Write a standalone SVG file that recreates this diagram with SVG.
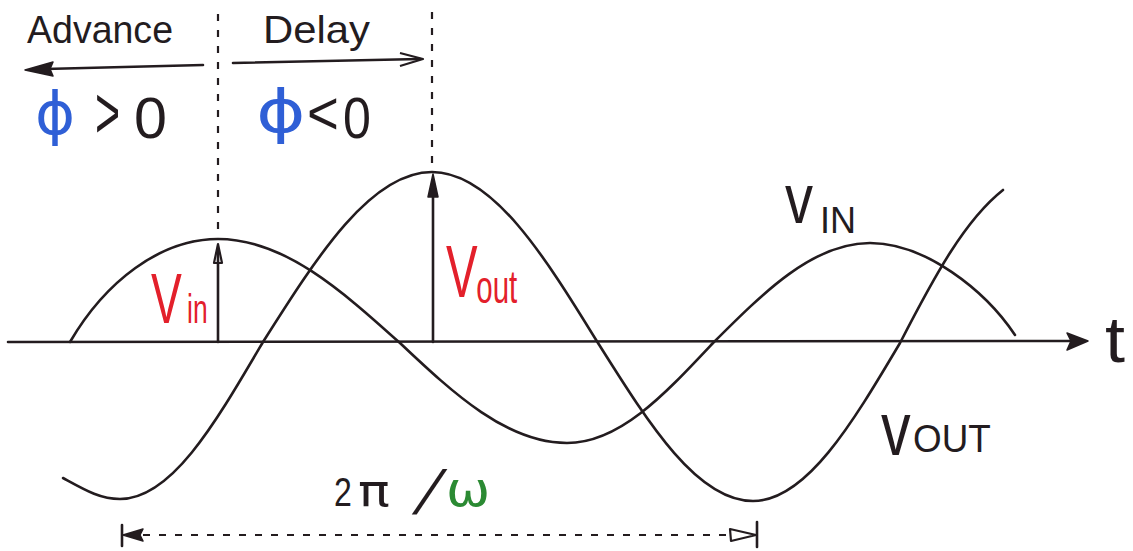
<svg xmlns="http://www.w3.org/2000/svg" width="1133" height="551" viewBox="0 0 1133 551">
<style>
.ln{fill:none;stroke:#231c1f;stroke-width:2.6;stroke-linecap:round;stroke-linejoin:round}
.dash{fill:none;stroke:#231c1f;stroke-width:2.2;stroke-dasharray:7 9}
.hf{fill:#231c1f;stroke:#231c1f;stroke-width:1.5;stroke-linejoin:round}
.ho{fill:none;stroke:#231c1f;stroke-width:2.2;stroke-linejoin:round}
.tx{font-family:"Liberation Sans",Arial,sans-serif;fill:#231c1f}
.dv{font-family:"DejaVu Sans","Liberation Sans",sans-serif;fill:#231c1f}
.red{font-family:"Liberation Sans",Arial,sans-serif;fill:#e3202b}
.blue{font-family:"DejaVu Sans","Liberation Sans",sans-serif;fill:#2f5fd6}
.green{font-family:"DejaVu Sans","Liberation Sans",sans-serif;fill:#2b8a33}
</style>
<rect width="1133" height="551" fill="#ffffff"/>
<g id="axis">
<path class="ln" d="M8,342 L1072,341"/>
<path class="hf" d="M1088,341 L1067,333 L1071,341 L1067,350 Z"/>
<text class="tx" x="1105" y="362" font-size="64" textLength="20" lengthAdjust="spacingAndGlyphs">t</text>
</g>
<g id="vin-curve">
<path class="ln" d="M70,342 C105,282 160,239 218,239 C284,239 341,290 400,343 C454,394 507,443 567,443 C620,443 665,394 713,343 C764,292 813,243 870,243 C925,243 985,290 1015,335"/>
<text class="tx" transform="translate(785,223) scale(0.8,1)" font-size="70">v</text>
<text class="tx" x="820" y="233" font-size="36">IN</text>
</g>
<g id="vout-curve">
<path class="ln" d="M63,478 C85,490 100,499 120,499 C172,499 216,422 263,342 C318,255 371,172 432,172 C492,172 544,255 598,343 C649,424 697,501 753,501 C806,501 852,424 900,343 C935,275 965,220 1003,190"/>
<text class="tx" transform="translate(881,455) scale(0.78,1)" font-size="76">v</text>
<text class="tx" transform="translate(913,452) scale(0.97,1)" font-size="38">OUT</text>
</g>
<g id="connectors">
<path class="dash" d="M218,14 L218,236"/>
<path class="dash" d="M432,12 L432,168"/>
<path class="ln" d="M203,65 L45,69"/>
<path class="hf" d="M25,70 L53,62 L50,69 L53,76 Z"/>
<path class="ln" d="M233,63 L420,59"/>
<path class="ho" d="M400,53 L423,59 L400,66"/>
<path class="ln" d="M218,342 L218,250"/>
<path class="ho" d="M214,263 L218,244 L222,263 Z"/>
<path class="ln" d="M433,342 L433,190"/>
<path class="hf" d="M428,197 L433,174 L438,197 Z"/>
<path class="dash" d="M143,535 L730,535" stroke-dasharray="9 10"/>
<path class="ln" d="M122,525 L122,546"/>
<path class="hf" d="M123,535 L143,529 L140,535 L143,541 Z"/>
<path class="ln" d="M757,522 L757,547"/>
<path class="ho" d="M756,535 L730,529 L731,541 Z"/>
</g>
<g id="advance-label">
<text class="tx" x="27" y="43" font-size="39" textLength="146" lengthAdjust="spacingAndGlyphs">Advance</text>
<text class="blue" transform="translate(35,134) scale(1.05,1)" font-size="58">ϕ</text>
<text class="tx" transform="translate(95,138) scale(0.58,1)" font-size="74">&gt;</text>
<text class="tx" transform="translate(134,138) scale(1.04,1)" font-size="57">0</text>
</g>
<g id="delay-label">
<text class="tx" x="263" y="43" font-size="39" textLength="107" lengthAdjust="spacingAndGlyphs">Delay</text>
<text class="blue" transform="translate(256,132) scale(1.3,1)" font-size="58">ϕ</text>
<text class="tx" transform="translate(307,134) scale(0.88,1)" font-size="62">&lt;</text>
<text class="tx" transform="translate(343,138) scale(0.88,1)" font-size="57">0</text>
</g>
<g id="vin-label">
<text class="red" transform="translate(151,323) scale(0.66,1)"><tspan font-size="70">V</tspan><tspan font-size="40" dx="8">in</tspan></text>
</g>
<g id="vout-label">
<text class="red" transform="translate(446,297) scale(0.64,1)"><tspan font-size="74">V</tspan><tspan font-size="46" dx="-2" dy="6">out</tspan></text>
</g>
<g id="period-label">
<text class="tx" transform="translate(334,506) scale(0.8,1)" font-size="40">2</text>
<text class="dv" transform="translate(358,506) scale(1.2,1)" font-size="44">π</text>
<text class="tx" transform="translate(412,514) skewX(-22)" x="0" y="0" font-size="62">/</text>
<text class="green" transform="translate(446,506) scale(1.1,1)" font-size="48">ω</text>
</g>
</svg>
